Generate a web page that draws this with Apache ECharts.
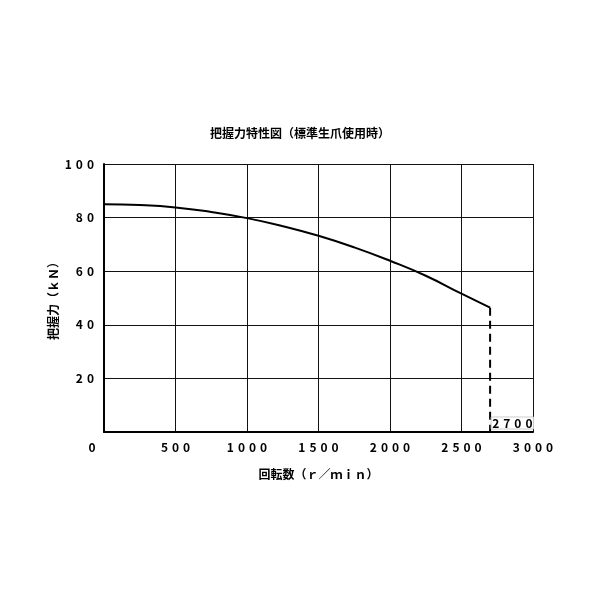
<!DOCTYPE html>
<html>
<head>
<meta charset="utf-8">
<script src="https://cdn.jsdelivr.net/npm/echarts@6/dist/echarts.min.js"></script>
<style>html,body{margin:0;padding:0;background:#fff}#c{width:600px;height:600px}</style>
</head>
<body>
<div id="c"></div>
<script>
const titleText = '把握力特性図（標準生爪使用時）';
const xAxisName = '回転数（ｒ／ｍｉｎ）';
const yAxisName = '把握力（ｋＮ）';
const speeds = [0, 250, 500, 750, 1000, 1250, 1500, 1750, 2000, 2250, 2500, 2700];
const forces = [85, 84.7, 83.8, 82.1, 79.8, 76.8, 73.2, 68.9, 63.9, 58.3, 51.6, 46.4];
const maxSpeed = 2700;
const maxSpeedLabel = '2700';

const spaced = s => String(s).split('').join('\u2004');
const FONT = '"Noto Sans CJK JP", "Noto Sans", sans-serif';
const txt = { fontFamily: FONT, fontSize: 12, fontWeight: 'bold', color: '#000' };

const chart = echarts.init(document.getElementById('c'));
chart.setOption({
  animation: false,
  backgroundColor: '#fff',
  title: {
    text: titleText, left: 'center', top: 122,
    textStyle: Object.assign({}, txt)
  },
  grid: { left: 104, right: 67, top: 164, bottom: 168, containLabel: false },
  xAxis: {
    type: 'value', min: 0, max: 3000, interval: 500,
    name: xAxisName, nameLocation: 'middle', nameGap: 36, nameMoveOverlap: false,
    nameTextStyle: Object.assign({}, txt),
    axisLine: { show: true, lineStyle: { color: '#000', width: 2 } },
    axisTick: { show: false },
    splitLine: { show: true, lineStyle: { color: '#111', width: 1 } },
    axisLabel: Object.assign({
      margin: 9,
      formatter: v => v === 0 ? '{z|0}' : spaced(v),
      rich: { z: Object.assign({ padding: [0, 24, 0, 0] }, txt) }
    }, txt)
  },
  yAxis: {
    type: 'value', min: 0, max: 100, interval: 20,
    name: yAxisName, nameLocation: 'middle', nameGap: 45, nameRotate: 90, nameMoveOverlap: false,
    nameTextStyle: Object.assign({}, txt),
    axisLine: { show: true, lineStyle: { color: '#000', width: 2 } },
    axisTick: { show: false },
    splitLine: { show: true, lineStyle: { color: '#111', width: 1 } },
    axisLabel: Object.assign({
      margin: 10,
      formatter: v => v === 0 ? '' : spaced(v)
    }, txt)
  },
  series: [
    {
      type: 'line', smooth: true, symbol: 'none',
      data: speeds.map((s, i) => [s, forces[i]]),
      lineStyle: { color: '#000', width: 2 }
    },
    {
      type: 'line', symbol: 'circle', symbolSize: 0.1,
      itemStyle: { color: 'rgba(0,0,0,0)' },
      lineStyle: { color: '#000', width: 2, type: [8, 5] },
      data: [
        { value: [maxSpeed, forces[forces.length - 1]] },
        { value: [maxSpeed, 0], label: Object.assign({
            show: true, formatter: spaced(maxSpeedLabel), position: 'right', offset: [-4, -9],
            borderColor: '#ccc', borderWidth: 1, padding: [0, 1, 0, 1]
        }, txt) }
      ]
    }
  ]
});
</script>
</body>
</html>
